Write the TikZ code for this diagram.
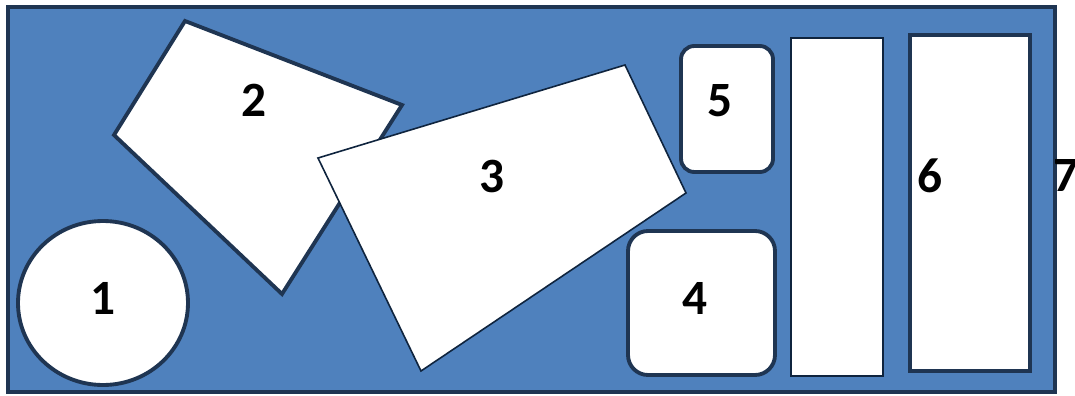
\documentclass[tikz,border=0pt]{standalone}
\usepackage{fontspec}
\setmainfont{Carlito}
\definecolor{fillblue}{HTML}{4F81BD}
\definecolor{edgec}{HTML}{1F3552}
\definecolor{thinedge}{HTML}{0F243E}
\begin{document}
\begin{tikzpicture}[x=0.75pt,y=-0.75pt,
  thickbox/.style={draw=edgec,line width=2.9pt,fill=white},
  thinbox/.style={draw=thinedge,line width=1.2pt,fill=white},
  lbl/.style={font=\fontsize{37}{40}\selectfont\bfseries,inner sep=0pt,anchor=center}]
\useasboundingbox (0,0) rectangle (1075,396);
\fill[white] (0,0) rectangle (1075,396);
% 7: outer container
\draw[fill=fillblue,draw=edgec,line width=3.3pt] (8,7) rectangle (1055,392);
% 1: circle
\draw[thickbox] (103,303) ellipse [x radius=85,y radius=82];
% 2: quadrilateral
\draw[thickbox] (185,21) -- (402,105) -- (282,294) -- (114,135) -- cycle;
% 3: quadrilateral
\draw[thinbox] (318,158) -- (625,65) -- (686,193) -- (421,371) -- cycle;
% 5: small rounded rectangle
\draw[thickbox,rounded corners=10pt] (681,46) rectangle (773,172);
% 4: larger rounded rectangle
\draw[thickbox,rounded corners=15pt] (628,231) rectangle (775,375);
% thin tall rectangle
\draw[thinbox] (791,38) rectangle (883,376);
% 6: tall rectangle
\draw[thickbox] (910,35) rectangle (1030,371);
% labels
\node[lbl] (l1) at (103,298) {1};
\node[lbl] (l2) at (254,100) {2};
\node[lbl] (l3) at (492,176) {3};
\node[lbl] (l4) at (695,298) {4};
\node[lbl] (l5) at (720,101) {5};
\node[lbl] (l6) at (930,176) {6};
\node[lbl] (l7) at (1066,176) {7};
\end{tikzpicture}
\end{document}
